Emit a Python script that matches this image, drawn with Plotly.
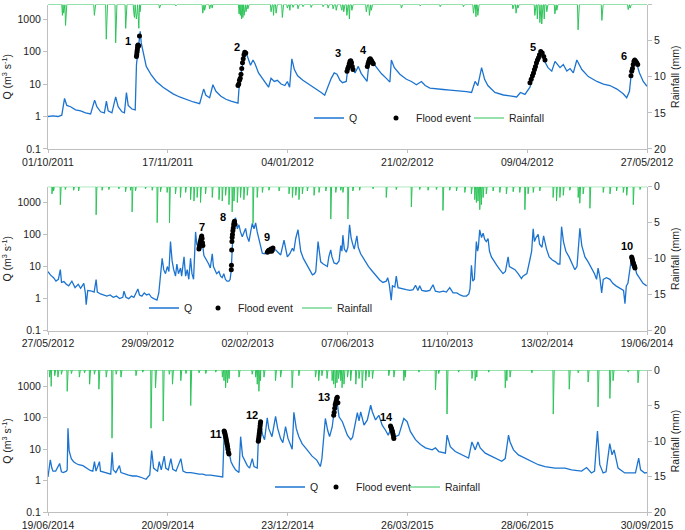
import numpy as np
import pandas as pd
import plotly.graph_objects as go

FONT = "Liberation Sans, Arial, sans-serif"
Q_COLOR = "#1C74D0"
RAIN_COLOR = "#2EC45A"
AXIS_COLOR = "#BFBFBF"
TXT = "#222222"

# ---------------- periods & tick labels ----------------
start_1, end_1 = "2011-10-01", "2012-05-27"
start_2, end_2 = "2012-05-27", "2014-06-19"
start_3, end_3 = "2014-06-19", "2015-09-30"

ticks_1 = ["01/10/2011", "17/11/2011", "04/01/2012", "21/02/2012", "09/04/2012", "27/05/2012"]
ticks_2 = ["27/05/2012", "29/09/2012", "02/02/2013", "07/06/2013", "11/10/2013", "13/02/2014", "19/06/2014"]
ticks_3 = ["19/06/2014", "20/09/2014", "23/12/2014", "26/03/2015", "28/06/2015", "30/09/2015"]

q_ticks = [0.1, 1, 10, 100, 1000]
q_ticklabels = ["0.1", "1", "10", "100", "1000"]
rain_ticks = [0, 5, 10, 15, 20]

# ---------------- discharge Q (day offset from period start, m3/s) ----------------
q_1 = [(0, 1.0), (2, 1.05), (4, 1.0), (5.5, 1.1), (6.6, 3.6), (7.5, 2.2), (9, 2.0), (11, 1.6), (13, 1.5),
       (15, 1.3), (17, 1.2), (18.6, 3.2), (19.5, 2.0), (21, 1.4), (22.5, 1.3), (23.3, 3.0), (24, 1.5),
       (25.5, 1.3), (27, 4.0), (28, 2.0), (29.5, 1.4), (30.5, 1.3), (31.3, 5.5), (32, 2.2), (33.5, 1.7),
       (34.8, 1.6), (35.3, 40), (36, 150), (36.8, 420), (37.2, 185), (38.2, 72), (39.2, 35), (41.2, 19),
       (43.2, 12), (45.9, 8), (49.9, 5.0), (52.5, 4.0), (55.2, 3.3), (58, 2.8), (60.5, 2.5), (62.1, 7),
       (63, 4.5), (64.5, 3.8), (65.8, 9.5), (67, 6), (69, 4.2), (71, 3.4), (73, 3.0), (75, 2.7), (75.8, 2.6),
       (76.3, 9), (77, 22), (78, 60), (79, 95), (80, 60), (80.8, 38), (81.8, 55), (82.6, 42), (84, 22),
       (86, 13), (88, 8), (89, 15), (90.3, 12), (91.5, 13), (93, 10), (94.5, 9), (95.5, 12), (96.4, 8),
       (97.3, 60), (98.3, 28), (99.6, 18), (101.7, 13), (104, 10), (107, 7), (109, 5.5), (110.4, 4.5),
       (111.7, 8), (113, 15), (114.2, 22), (115.3, 20), (116.5, 13), (117.5, 11), (119, 12), (119.5, 25),
       (120.5, 50), (121.5, 30), (122.5, 22), (123.8, 35), (125, 21), (126.5, 14), (127.3, 12), (128.2, 55),
       (129.2, 50), (130, 42), (131.5, 30), (133, 21), (135, 15), (136.4, 11.5), (137, 55), (138.2, 32),
       (140.4, 20), (143, 14), (145, 12), (147, 9.5), (149, 12), (150.5, 9), (152.4, 7.5), (155, 7),
       (157.7, 6.8), (160.4, 6.5), (163, 6.3), (165, 6), (167, 5.8), (169, 5.5), (170.4, 12), (171.5, 9),
       (173, 32), (174.2, 14), (175.5, 9), (178.3, 5.5), (181.7, 4.6), (184.3, 4.3), (187, 4), (188.5, 5.5),
       (190.3, 4.8), (192.3, 8), (193.3, 15), (194.8, 30), (196.3, 75), (197.2, 105), (198.3, 48),
       (199.5, 32), (201, 25), (202.3, 50), (204.3, 32), (205.6, 40), (207, 25), (208.3, 30), (209.6, 22),
       (211, 55), (213, 28), (215.6, 17), (219, 12), (221.6, 10), (224.2, 9), (227, 7), (229.5, 5),
       (230.9, 3.8), (232, 6), (232.9, 28), (233.8, 55), (235, 40), (236, 22), (237.5, 12), (239, 8.5)]

q_2 = [(0, 7), (3, 5.5), (7, 4.5), (10, 3.5), (13, 4), (15.5, 8), (17, 3.2), (20, 3.4), (23, 2.8), (26, 2.5),
       (30, 3.5), (34, 2.2), (38, 2.8), (41, 2.1), (45, 3), (47, 1.5), (48, 0.65), (50, 1.8), (55, 1.7),
       (58, 1.6), (60.5, 3.9), (62, 1.6), (66, 1.4), (70, 1.3), (74, 1.2), (78, 1.3), (82, 1.1), (86, 1.2),
       (90, 1.0), (94, 1.1), (95.5, 1.7), (98, 1.1), (101.5, 1.0), (105, 1.2), (108, 1.1), (110, 1.4),
       (113, 2.0), (115, 1.3), (118, 1.2), (121, 1.5), (124, 1.3), (127, 1.4), (130, 1.1), (133, 1.0),
       (137, 0.9), (139.3, 1.5), (141.4, 4.4), (143.5, 18), (145.5, 8), (147.7, 6), (150, 10), (152, 7),
       (154, 60), (156, 15), (158, 8), (160.3, 5), (162, 12), (164, 6), (166.6, 9), (168, 5), (171, 20),
       (173, 5), (175, 8), (177, 4), (179.2, 18), (181, 6), (183, 4), (185.5, 120), (187, 50), (189.7, 35),
       (191, 90), (193, 60), (194.7, 40), (196, 22), (198, 18), (200, 15), (202, 12), (204, 9), (206.5, 25),
       (208, 10), (210, 8), (212, 6), (214.9, 7), (217, 5), (219, 4.5), (221, 6), (223, 4), (225, 3.5),
       (227.4, 3.5), (229, 4), (230.4, 8), (231.5, 60), (233, 200), (234.5, 280), (235.8, 330), (238, 150),
       (240, 200), (242, 120), (244.2, 85), (246, 110), (248.4, 155), (250, 90), (252.6, 60), (255, 130),
       (256.8, 220), (259, 150), (261, 230), (263, 120), (265.2, 70), (267, 40), (269.4, 26), (272, 25),
       (275.7, 30), (279, 35), (282.8, 33), (286.2, 33), (289, 28), (292.5, 23), (296.7, 67), (299, 30),
       (300.9, 20), (304, 25), (307.2, 37), (309, 30), (311.4, 75), (314.3, 140), (316, 60), (317.7, 30),
       (321, 18), (324, 13), (328, 8), (332.4, 5.5), (335, 6), (336.6, 7), (339.5, 60), (341, 25),
       (342.8, 14), (346, 12), (349, 11), (351.2, 10), (353, 20), (355.4, 33), (357, 20), (359.6, 13),
       (363, 12), (365.9, 15), (368, 45), (369.5, 30), (370.7, 95), (372.5, 35), (375, 28), (377, 40),
       (379.1, 200), (381, 80), (383, 50), (385, 35), (388.3, 90), (390, 40), (393, 25), (398, 15),
       (403, 10), (408, 7), (412.7, 5), (417, 3.8), (421, 3.2), (425.2, 3.5), (427, 4.5), (429, 2.8),
       (431.5, 0.9), (433, 2.5), (436, 2.3), (437.8, 5), (440, 2.2), (445, 2), (450.4, 1.9), (455, 1.8),
       (459, 1.9), (462, 2.6), (465, 1.8), (467.2, 2.5), (470, 1.8), (475, 1.7), (480, 1.8), (484, 2.7),
       (487, 1.7), (492, 1.6), (497, 1.7), (500.8, 1.6), (505, 2.2), (509.2, 1.5), (514, 1.5), (518, 1.3),
       (521.8, 1.2), (526, 1.2), (529, 1.4), (530.5, 2), (532.3, 11), (534, 3.5), (536, 4), (538.5, 60),
       (540, 30), (541, 40), (542.7, 140), (545, 80), (547, 110), (549, 70), (551, 60), (553.2, 75),
       (555, 30), (557.4, 20), (561, 14), (564, 11), (568, 8), (572, 6), (575, 7), (578.4, 20), (580, 10),
       (583, 9), (587, 8), (591, 6), (595.2, 4.2), (597, 5), (600, 5.5), (602, 6), (605.7, 16), (608, 30),
       (609.9, 150), (611.5, 60), (613.5, 80), (616.2, 100), (618, 50), (621, 40), (623, 90), (626.7, 35),
       (630, 20), (634, 16), (638, 14), (641, 12), (643.5, 12), (645.6, 175), (648, 60), (651, 30),
       (655, 20), (659, 12), (662.3, 8), (665, 10), (668.6, 155), (671, 45), (675, 20), (679, 14), (683, 9),
       (687, 6), (689.6, 4), (691.5, 9), (693.8, 4.5), (696, 1.5), (698, 4), (702, 4.5), (706.4, 4),
       (710, 3), (714, 2.5), (718, 2.2), (721, 2.0), (723.5, 1.8), (725.3, 0.7), (727, 2.5), (729, 3),
       (731.6, 8), (733.7, 20), (735.5, 14), (737.9, 10), (740, 6), (744.2, 4), (748, 3), (752.6, 2.5)]

q_3 = [(0, 1.3), (1.8, 4.6), (3, 2.5), (3.9, 2.0), (6, 2.0), (7.5, 2.5), (9.1, 3.5), (10.5, 1.9), (12, 1.8),
       (14.3, 2.0), (15, 2.2), (15.6, 46), (16.5, 9), (18.2, 5), (20, 4), (22, 3.5), (24, 3.2), (27.3, 3.0),
       (29, 2.7), (31.1, 2.3), (33, 2.1), (35, 2.0), (36.3, 4.0), (37.5, 2.0), (40.2, 4.0), (41, 2.0),
       (44, 1.8), (47, 1.7), (49, 1.6), (50.1, 8), (51, 2.2), (53, 1.8), (55.8, 3.0), (57, 1.8), (60, 1.6),
       (63, 1.5), (66.2, 1.4), (69, 1.4), (72, 1.3), (74, 1.2), (76.6, 1.1), (78, 1.3), (79.5, 1.5), (81, 9),
       (82.5, 2.5), (84, 2.2), (85.6, 2.0), (86.9, 4.0), (88.5, 2.2), (90.8, 6.0), (92, 2.5), (94, 2.2),
       (96, 5.0), (97.5, 2.3), (100, 2.0), (103.8, 5.0), (105.5, 2.0), (108, 1.8), (111.6, 1.8), (115, 1.7),
       (118, 1.6), (121, 1.6), (123.3, 1.5), (127, 1.5), (131, 1.4), (134, 1.4), (136.5, 1.3), (137.6, 30),
       (139, 38), (140.5, 12), (141.4, 8), (143, 4), (144.5, 3), (146.5, 2.2), (149.2, 1.8), (150.5, 25),
       (152, 6), (154, 4), (155.7, 3), (157.5, 2.5), (159.6, 5), (161, 2.8), (163.5, 2.5), (164.3, 18),
       (165.2, 45), (166.1, 75), (167.5, 30), (169.2, 20), (171.3, 100), (172.5, 45), (175, 25),
       (177.8, 110), (179.5, 45), (181.7, 22), (183.5, 16), (185.6, 52), (187.5, 22), (190.8, 10),
       (192.1, 150), (194, 45), (196, 25), (198.5, 15), (202, 10), (206.3, 6), (210, 4.5), (212.8, 2.8),
       (214, 5), (215.5, 30), (216.7, 95), (218.5, 40), (220, 25), (222, 50), (223.5, 150), (225.5, 420),
       (227.4, 107), (230, 75), (233.9, 28), (236.5, 20), (238, 24), (241.7, 147), (243, 80), (244.3, 155),
       (246.9, 58), (249.5, 85), (252.1, 250), (253.4, 155), (255.9, 85), (258.5, 120), (261.1, 58),
       (263.7, 40), (265.8, 28), (268, 45), (270.2, 25), (271.5, 25), (274.1, 28), (278, 95), (280.6, 75),
       (283.2, 36), (287.1, 20), (291, 14), (294.9, 11), (300.1, 9.5), (302.7, 11), (305.3, 8.4),
       (310.5, 7.5), (311.8, 28), (314.3, 12), (318.2, 8.4), (323.4, 6.6), (328.6, 5.2), (331.2, 17),
       (333.8, 9.5), (335.9, 17), (337.7, 11), (341.6, 7.5), (346.8, 5.9), (352, 4.6), (354.5, 4.1),
       (357.2, 5.0), (359.8, 28), (361, 17), (363.7, 9.5), (367.5, 6.6), (372.7, 5.2), (377.9, 4.1),
       (383.1, 3.2), (388.3, 2.8), (396.1, 2.5), (403.9, 2.5), (409.1, 2.2), (416.9, 2.0), (420.8, 2.6),
       (424.6, 1.75), (427, 2.0), (429.3, 38), (431.1, 3.2), (433.7, 1.75), (436, 1.9), (438.9, 15),
       (440.7, 6.6), (442.3, 9.5), (445.4, 2.5), (450.6, 1.75), (455.8, 1.8), (459, 1.75), (461.5, 5.2),
       (463, 2.2), (466.2, 1.75), (468, 1.8)]

# ---------------- flood event samples (day offset, Q) ----------------
flood_1 = [(35.3, 70), (35.4, 80), (35.5, 95), (35.6, 110), (35.7, 130), (35.8, 150), (35.9, 160), (36.2, 150),
           (36.5, 300),
           (75.8, 9), (76.1, 10), (76.4, 13), (76.7, 15), (77.0, 20), (77.3, 30), (77.6, 45), (77.9, 60),
           (78.2, 80), (78.5, 95), (78.9, 90),
           (119.3, 25), (119.6, 30), (119.9, 35), (120.2, 42), (120.5, 50), (120.8, 52), (121.1, 45),
           (121.4, 35), (121.7, 28),
           (127.4, 35), (127.7, 42), (128.0, 50), (128.3, 58), (128.6, 60), (128.9, 55), (129.2, 50),
           (129.5, 45), (129.8, 42),
           (192.3, 11), (192.8, 14), (193.3, 18), (193.7, 22), (194.1, 28), (194.5, 35), (194.9, 45),
           (195.3, 55), (195.7, 65), (196.1, 80), (196.6, 100), (197.2, 90), (197.8, 70), (198.3, 55),
           (232.6, 18), (232.9, 25), (233.2, 30), (233.5, 40), (233.8, 50), (234.1, 55), (234.5, 50),
           (234.9, 45), (235.3, 40)]
flood_2 = [(189.7, 35), (190.2, 40), (190.7, 48), (191.2, 55), (191.7, 62), (192.2, 70), (192.7, 80),
           (193.2, 90), (193.7, 75), (194.2, 55), (194.7, 45),
           (230.4, 8), (230.6, 11), (230.9, 33), (231.2, 60), (231.5, 80), (231.9, 100), (232.4, 130),
           (232.9, 160), (233.4, 200), (233.9, 230), (234.4, 260), (235.0, 210),
           (275.7, 28), (276.6, 30), (277.5, 32), (278.4, 30), (279.3, 33), (280.2, 35), (281.1, 30),
           (282.0, 33), (282.8, 38),
           (733.7, 20), (734.2, 18), (734.7, 16), (735.2, 14), (735.7, 13), (736.2, 12), (736.7, 11),
           (737.3, 10), (737.9, 9)]
flood_3 = [(137.6, 38), (137.9, 35), (138.2, 32), (138.5, 28), (138.8, 25), (139.1, 22), (139.4, 19),
           (139.7, 16), (140.0, 14), (140.3, 12), (140.6, 10), (141.0, 8), (141.4, 7),
           (164.3, 18), (164.5, 20), (164.7, 23), (164.9, 27), (165.1, 32), (165.3, 38), (165.5, 45),
           (165.7, 55), (165.9, 65), (166.1, 75),
           (223.2, 120), (223.6, 150), (224.0, 200), (224.4, 260), (224.8, 300), (225.2, 350), (225.6, 420),
           (226.0, 450), (226.5, 300),
           (267.6, 55), (268.0, 50), (268.4, 45), (268.8, 40), (269.2, 35), (269.6, 30), (270.0, 25),
           (270.2, 22)]

# event number labels (text, day offset, Q)
labels_1 = [("1", 32.0, 205), ("2", 75.3, 134), ("3", 115.7, 92), ("4", 125.7, 108), ("5", 193.5, 134),
            ("6", 229.9, 75)]
labels_2 = [("7", 193.9, 175), ("8", 219.9, 360), ("9", 275.7, 86), ("10", 728.2, 45)]
labels_3 = [("11", 131.0, 30), ("12", 159.1, 127), ("13", 215.4, 460), ("14", 264.3, 107)]

# ---------------- rainfall (day offset, mm) ----------------
rain_1 = [(5.7, 1.5), (6.3, 1.2), (6.9, 2.9), (7.3, 1.0), (18.4, 1.5), (23.3, 4.8), (26.9, 5.3), (30.9, 3.3),
          (34.2, 1.2), (34.6, 1.8), (35.0, 1.5), (35.3, 2.0), (35.6, 1.3), (35.9, 1.7), (36.3, 3.3),
          (36.7, 1.0), (44.5, 0.5), (50.9, 0.2), (61.8, 1.2), (62.5, 0.8), (64.5, 0.6), (65.6, 0.5),
          (76.2, 1.3), (76.7, 1.5), (77.3, 2.0), (77.8, 1.8), (78.3, 1.5), (78.9, 1.0), (79.8, 0.6),
          (89.1, 1.0), (90.0, 1.5), (91.1, 1.2), (93.5, 1.8), (95.4, 0.5), (96.4, 0.8), (97.7, 0.4),
          (99.7, 0.6), (101.7, 0.3), (105.1, 0.4), (109.7, 0.3), (111.7, 0.5), (113.7, 0.6), (115.0, 0.8),
          (117.0, 0.5), (117.2, 0.8), (118.1, 1.0), (119.2, 1.5), (120.2, 2.0), (121.2, 0.8), (127.1, 1.0),
          (128.2, 1.5), (129.1, 0.8), (141.1, 0.5), (148.4, 0.2), (156.4, 0.3), (165.7, 0.3), (169.7, 1.2),
          (170.8, 1.7), (171.4, 1.5), (185.6, 0.6), (186.7, 1.2), (187.6, 0.5), (194.3, 1.5), (195.2, 2.0),
          (196.3, 2.5), (197.0, 2.7), (197.9, 2.0), (199.0, 1.0), (202.3, 1.3), (203.0, 0.8), (211.6, 3.5),
          (220.9, 2.2), (231.5, 0.7), (232.2, 0.5)]
rain_2 = [(5, 1.0), (7.1, 0.6), (15.5, 2.5), (21.8, 0.4), (32.3, 0.5), (38.6, 0.6), (60.4, 3.9), (68, 0.5),
          (76.4, 0.4), (89, 0.3), (97.4, 0.7), (103.7, 0.5), (105.7, 3.5), (110, 0.6), (122.5, 0.3),
          (130.9, 0.5), (137.2, 5.0), (141.4, 0.7), (149.8, 0.8), (152.7, 5.0), (160.3, 1.0), (166.6, 1.5),
          (172.9, 0.8), (179.2, 1.8), (183.4, 2.0), (187.6, 1.5), (191.8, 2.2), (198.1, 1.0), (206.5, 1.5),
          (214.9, 1.8), (219.1, 2.0), (223.3, 1.2), (227.4, 2.5), (231.6, 3.5), (233.7, 2.0), (237.9, 2.2),
          (242.1, 1.5), (246.3, 1.8), (250.5, 1.2), (257.7, 5.1), (263.1, 1.5), (269.4, 0.8), (277.8, 0.5),
          (290.4, 0.6), (303, 1.0), (307.2, 1.5), (311.4, 1.2), (315.6, 1.8), (319.8, 1.0), (326.1, 0.6),
          (334.5, 1.2), (340.8, 0.8), (349.2, 0.6), (355.4, 4.5), (361.7, 0.8), (368, 0.5), (370.7, 0.8),
          (377, 4.5), (383.3, 0.6), (391.7, 0.5), (408.5, 0.3), (425.2, 1.5), (437.8, 0.4), (456.7, 2.8),
          (467.2, 0.4), (477.7, 0.5), (488.2, 0.4), (496.6, 3.3), (505, 0.5), (513.4, 0.6), (523.9, 0.8),
          (532.3, 1.0), (536.5, 1.8), (538.5, 2.2), (540.6, 2.0), (542.7, 3.2), (544.8, 2.5), (547, 1.5),
          (551.1, 1.0), (559.5, 0.6), (567.9, 0.8), (576.3, 1.0), (584.7, 0.7), (593.1, 0.8), (599.4, 3.2),
          (603.6, 1.0), (609.9, 0.8), (618.3, 0.6), (635.1, 1.5), (639.3, 2.0), (643.5, 1.5), (647.7, 1.2),
          (656.1, 0.5), (666.5, 1.5), (668.6, 2.3), (672.8, 1.0), (681.2, 3.0), (698, 0.8), (706.4, 1.0),
          (714.8, 0.6), (723.2, 0.8), (727.4, 1.2), (735.8, 2.5), (744.2, 0.4)]
rain_3 = [(1.3, 1.0), (2.6, 2.3), (5.2, 0.8), (7.8, 1.0), (10.4, 0.6), (15.1, 3.0), (18.2, 0.5), (24.6, 1.0),
          (28.5, 0.4), (32.4, 2.0), (36.3, 0.6), (39.7, 2.7), (45.4, 1.0), (50.1, 9.6), (53.2, 0.6),
          (57.1, 1.0), (68.8, 0.8), (74, 0.3), (80.5, 8.2), (84, 2.5), (90.1, 7.2), (94.7, 0.6), (97.3, 2.0),
          (103.8, 1.5), (107.7, 0.5), (111.6, 5.0), (118.1, 0.4), (123.3, 0.5), (131.1, 0.3), (136.3, 1.0),
          (137.6, 1.5), (138.8, 2.5), (140.2, 1.8), (141.4, 1.2), (149.2, 1.0), (159.6, 0.6), (162.2, 1.0),
          (163.5, 2.0), (164.8, 3.0), (166.1, 1.5), (168.7, 1.0), (177.8, 1.5), (181.7, 1.0), (190.8, 2.5),
          (196, 0.8), (209, 1.0), (211.5, 1.5), (214.1, 0.8), (218, 1.2), (221.9, 1.5), (223.2, 2.0),
          (224.5, 2.5), (225.8, 1.8), (227.1, 1.2), (229.7, 2.5), (228.7, 1.5), (231.3, 2.0), (233.9, 1.0),
          (236.5, 1.5), (240.4, 2.0), (243, 1.2), (245.6, 2.5), (248.2, 1.5), (250.8, 1.0), (253.4, 1.2),
          (266.3, 0.8), (270.2, 1.0), (278, 1.5), (279.3, 1.0), (289.7, 0.3), (302.7, 2.8), (305.3, 0.5),
          (311.8, 6.2), (320.8, 0.3), (331.2, 1.2), (333.8, 1.5), (335.1, 1.0), (344.2, 0.3), (357.2, 2.5),
          (358.5, 1.5), (361.1, 1.0), (377.9, 0.4), (394.8, 6.2), (407.3, 2.7), (414.3, 0.4), (422.1, 1.7),
          (429.8, 5.2), (438.9, 4.0), (441.5, 1.5), (453.2, 0.3), (461, 1.8)]

# ---------------- layout geometry ----------------
W, H = 685, 530
ML, MR, MT, MB = 48, 38, 4, 18
PW, PH = W - ML - MR, H - MT - MB

y_domains = [[0.7146, 0.999], [0.3569, 0.6404], [0.0, 0.2795]]
q_log_top = [3.45, 3.49, 3.52]
legend_y_px = [118, 308, 487]
legend_x_px = [(309, 376, 469), (144, 198, 297), (270, 316, 405)]

panels = [
    dict(start=start_1, end=end_1, ticks=ticks_1, q=q_1, flood=flood_1, labels=labels_1, rain=rain_1),
    dict(start=start_2, end=end_2, ticks=ticks_2, q=q_2, flood=flood_2, labels=labels_2, rain=rain_2),
    dict(start=start_3, end=end_3, ticks=ticks_3, q=q_3, flood=flood_3, labels=labels_3, rain=rain_3),
]


def to_dates(start, days):
    return pd.Timestamp(start) + pd.to_timedelta(np.asarray(days, dtype=float), unit="D")


def rain_series(events, span, step=0.25):
    n = int(round(span / step)) + 1
    vals = np.zeros(n)
    for d, mm in events:
        k = int(round(d / step))
        vals[k] = max(vals[k], mm)
    return np.arange(n) * step, vals


fig = go.Figure()
layout = dict(
    width=W, height=H, margin=dict(l=ML, r=MR, t=MT, b=MB, autoexpand=False),
    paper_bgcolor="white", plot_bgcolor="white",
    font=dict(family=FONT, size=10.5, color=TXT),
    showlegend=True,
    annotations=[],
)

axis_common = dict(showline=True, linecolor=AXIS_COLOR, linewidth=1, ticks="outside", ticklen=4,
                   tickcolor=AXIS_COLOR, showgrid=False, zeroline=False, automargin=False,
                   tickfont=dict(family=FONT, size=10.5, color=TXT))

leg_idx = 2
for i, p in enumerate(panels):
    n = i + 1
    xname = "x" if n == 1 else f"x{n}"
    xkey = "xaxis" if n == 1 else f"xaxis{n}"
    yq, yr = 2 * i + 1, 2 * i + 2
    yq_name = "y" if yq == 1 else f"y{yq}"
    yq_key = "yaxis" if yq == 1 else f"yaxis{yq}"
    yr_name, yr_key = f"y{yr}", f"yaxis{yr}"

    t0, t1 = pd.Timestamp(p["start"]), pd.Timestamp(p["end"])
    span = (t1 - t0).days
    nt = len(p["ticks"]) - 1
    tickvals = [t0 + pd.Timedelta(days=span * k / nt) for k in range(nt + 1)]

    layout[xkey] = dict(axis_common, type="date", domain=[0, 1], anchor=yq_name, ticklen=3,
                        range=[t0, t1], tickmode="array", tickvals=tickvals, ticktext=p["ticks"])
    layout[yq_key] = dict(axis_common, type="log", domain=y_domains[i], anchor=xname,
                          range=[-1, q_log_top[i]], tickmode="array", tickvals=q_ticks,
                          ticktext=q_ticklabels,
                          title=dict(text="Q (m<sup>3</sup> s<sup>-1</sup>)", standoff=4,
                                     font=dict(family=FONT, size=10.5, color=TXT)))
    layout[yr_key] = dict(axis_common, overlaying=yq_name, side="right", anchor=xname,
                          range=[20, 0], tickmode="array", tickvals=rain_ticks,
                          title=dict(text="Rainfall (mm)", standoff=6,
                                     font=dict(family=FONT, size=10.5, color=TXT)))

    q_day, q_val = zip(*p["q"])
    f_day, f_val = zip(*p["flood"])
    r_day, r_val = rain_series(p["rain"], span)

    leg_names = []
    for k in range(3):
        lid = f"legend{leg_idx}"
        leg_names.append(lid)
        lx = (legend_x_px[i][k] - ML) / PW
        ly = 1 - (legend_y_px[i] - MT) / PH
        layout[lid] = dict(
            x=lx, y=ly, xanchor="left", yanchor="middle", orientation="h",
            bgcolor="rgba(0,0,0,0)", borderwidth=0,
            font=dict(family=FONT, size=10.5, color=TXT), itemwidth=30)
        leg_idx += 1

    fig.add_trace(go.Scatter(x=to_dates(p["start"], q_day), y=q_val, mode="lines",
                             line=dict(color=Q_COLOR, width=1.3), name="Q", showlegend=True,
                             xaxis=xname, yaxis=yq_name, legend=leg_names[0]))
    fig.add_trace(go.Scatter(x=to_dates(p["start"], f_day), y=f_val, mode="markers",
                             marker=dict(color="black", size=5), name="Flood event", showlegend=True,
                             xaxis=xname, yaxis=yq_name, legend=leg_names[1]))
    fig.add_trace(go.Scatter(x=to_dates(p["start"], r_day), y=r_val, mode="lines",
                             line=dict(color=RAIN_COLOR, width=1), name="Rainfall", showlegend=True,
                             xaxis=xname, yaxis=yr_name, legend=leg_names[2]))

    for txt, d, q in p["labels"]:
        layout["annotations"].append(dict(
            text=f"<b>{txt}</b>", x=to_dates(p["start"], [d])[0], y=np.log10(q),
            xref=xname, yref=yq_name, showarrow=False, xanchor="center", yanchor="middle",
            font=dict(family=FONT, size=11, color="black")))

fig.update_layout(**layout)
fig.write_html(
    "out.html",
    config={"displayModeBar": False},
    post_script="document.body.style.margin='0';document.body.style.overflow='hidden';",
)
